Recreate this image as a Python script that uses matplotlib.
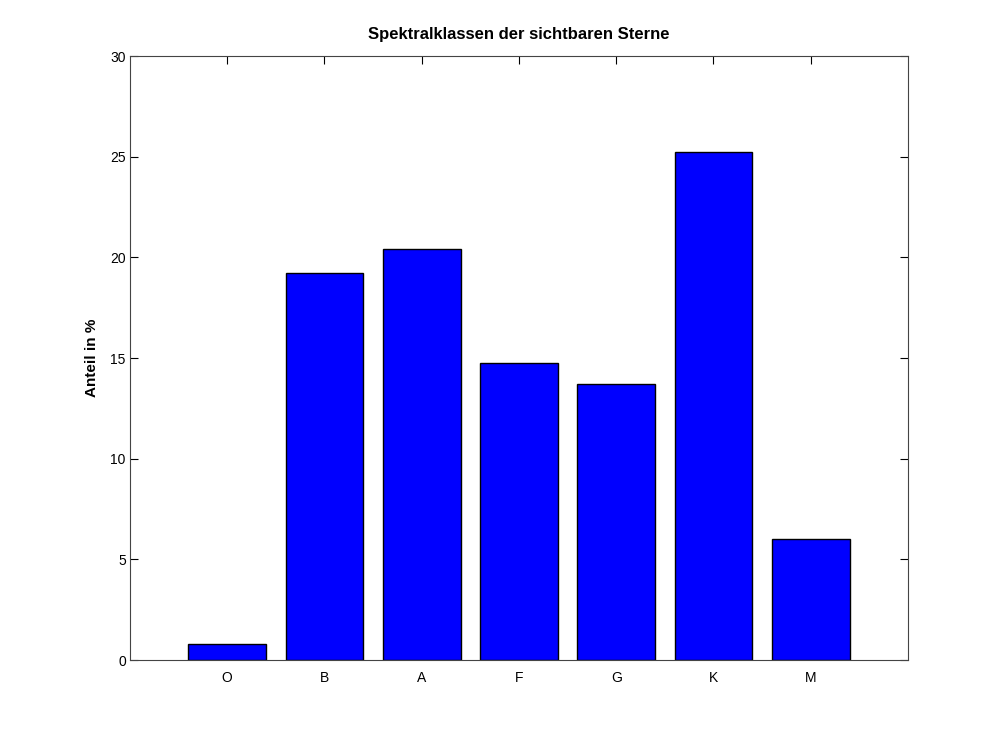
import numpy as np
import matplotlib.pyplot as plt

plt.rcParams['font.family'] = ['Liberation Sans', 'DejaVu Sans']

klassen = ["O", "B", "A", "F", "G", "K", "M"]
anteil = [0.8, 19.2, 20.4, 14.75, 13.7, 25.25, 6.0]
y_ticks = [0, 5, 10, 15, 20, 25, 30]

fig = plt.figure(figsize=(10.03, 7.42), dpi=100)
ax = fig.add_axes([130/1003, 82/742, 778/1003, 604/742])
ax.set_axisbelow(True)

x = np.arange(1, len(klassen) + 1)
ax.bar(x, anteil, width=0.8, color="#0000ff", edgecolor="black", linewidth=1.0)

ax.set_xlim(0, len(klassen) + 1)
ax.set_ylim(0, 30)
ax.set_xticks(x)
ax.set_xticklabels(klassen)
ax.set_yticks(y_ticks)
ax.tick_params(direction="in", top=True, right=True, labelsize=10, length=6)
ax.tick_params(axis="x", pad=8)
ax.tick_params(axis="y", pad=3)
for s in ax.spines.values():
    s.set_color("#444444")

ax.set_ylabel("Anteil in %", fontsize=11, fontweight="bold", labelpad=8)
ax.set_title("Spektralklassen der sichtbaren Sterne", fontsize=12, fontweight="bold", pad=12)

fig.savefig("out.png", dpi=100)
